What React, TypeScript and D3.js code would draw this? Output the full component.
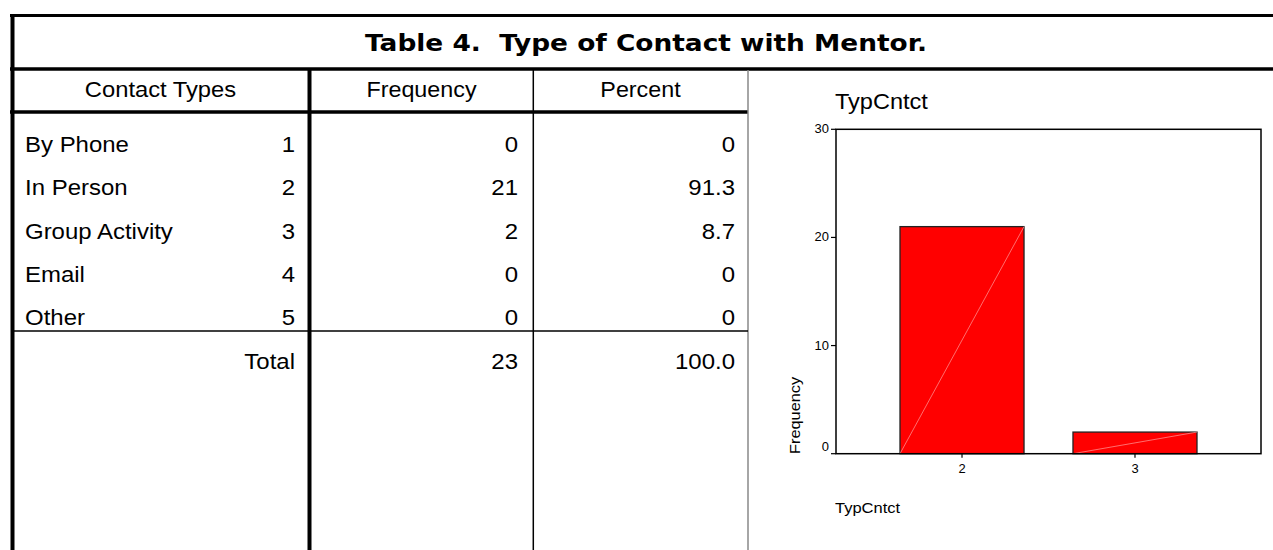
import React from "react";
import * as d3 from "d3";

const contactTypes = ["By Phone", "In Person", "Group Activity", "Email", "Other"];
const contactCodes = [1, 2, 3, 4, 5];
const frequencies = [0, 21, 2, 0, 0];
const percents = ["0", "91.3", "8.7", "0", "0"];
const totalLabel = "Total";
const totalFrequency = 23;
const totalPercent = "100.0";
const headers = ["Contact Types", "Frequency", "Percent"];
const yTicks = [0, 10, 20, 30];
const titleText = "Table 4.  Type of Contact with Mentor.";
const chartTitle = "TypCntct";
const xAxisTitle = "TypCntct";
const yAxisTitle = "Frequency";

const W = 1273;
const H = 550;
const SANS = "'Liberation Sans', Arial, sans-serif";

type TP = {
  x: number;
  y: number;
  size: number;
  anchor?: "start" | "middle" | "end";
  sx?: number;
  rot?: number;
  weight?: string | number;
  family?: string;
  children: React.ReactNode;
};

function Txt({ x, y, size, anchor = "start", sx = 1.09, rot = 0, weight = "normal", family = SANS, children }: TP) {
  return (
    <text
      transform={`translate(${x},${y})${rot ? ` rotate(${rot})` : ""} scale(${sx},1)`}
      textAnchor={anchor}
      fontSize={size}
      fontFamily={family}
      fontWeight={weight}
      fill="#000"
    >
      {children}
    </text>
  );
}

export default function App() {
  // table layout
  const rowY = d3.scaleLinear().domain([0, contactTypes.length - 1]).range([152, 325]);
  const totalY = 369;

  // chart
  const chartData = contactCodes
    .map((c, i) => ({ code: String(c), freq: frequencies[i] }))
    .filter((d) => d.freq > 0);
  const plotL = 836, plotR = 1261, plotT = 129.3, plotB = 453.7;
  const y = d3.scaleLinear().domain([0, 30]).range([plotB, plotT]);
  const x = d3
    .scaleBand<string>()
    .domain(chartData.map((d) => d.code))
    .range([plotL, plotR])
    .paddingInner(0.283)
    .paddingOuter(0.37);

  return (
    <svg
      width={W}
      height={H}
      style={{ position: "absolute", left: 0, top: 0, display: "block", background: "#fff" }}
    >
      <rect x={0} y={0} width={W} height={H} fill="#fff" />

      {/* table grid */}
      <line x1={10} x2={W} y1={15.5} y2={15.5} stroke="#000" strokeWidth={3} />
      <line x1={12.5} x2={12.5} y1={14} y2={H} stroke="#000" strokeWidth={4} />
      <line x1={10} x2={W} y1={69} y2={69} stroke="#000" strokeWidth={3.5} />
      <line x1={10} x2={748} y1={112} y2={112} stroke="#000" strokeWidth={3.5} />
      <line x1={309.5} x2={309.5} y1={69} y2={H} stroke="#000" strokeWidth={4} />
      <line x1={533.3} x2={533.3} y1={69} y2={H} stroke="#000" strokeWidth={1.5} />
      <line x1={748} x2={748} y1={70} y2={H} stroke="#888" strokeWidth={1.5} />
      <line x1={12} x2={748} y1={331} y2={331} stroke="#000" strokeWidth={1.5} />

      {/* title */}
      <text
        x={646}
        y={51}
        textAnchor="middle"
        fontFamily="'DejaVu Sans', Verdana, sans-serif"
        fontWeight="bold"
        fontSize={23}
        textLength={562}
        lengthAdjust="spacingAndGlyphs"
        fill="#000"
        style={{ whiteSpace: "pre" }}
        xmlSpace="preserve"
      >
        {titleText}
      </text>

      {/* headers */}
      <Txt x={160.5} y={97} size={22} anchor="middle" sx={1.08}>{headers[0]}</Txt>
      <Txt x={421.5} y={97} size={22} anchor="middle" sx={1.06}>{headers[1]}</Txt>
      <Txt x={640.5} y={97} size={22} anchor="middle" sx={1.06}>{headers[2]}</Txt>

      {/* rows */}
      {contactTypes.map((t, i) => (
        <g key={t}>
          <Txt x={25} y={rowY(i)} size={22}>{t}</Txt>
          <Txt x={295} y={rowY(i)} size={22} anchor="end">{contactCodes[i]}</Txt>
          <Txt x={518} y={rowY(i)} size={22} anchor="end">{frequencies[i]}</Txt>
          <Txt x={735} y={rowY(i)} size={22} anchor="end">{percents[i]}</Txt>
        </g>
      ))}
      <Txt x={295} y={totalY} size={22} anchor="end">{totalLabel}</Txt>
      <Txt x={518} y={totalY} size={22} anchor="end">{totalFrequency}</Txt>
      <Txt x={735} y={totalY} size={22} anchor="end">{totalPercent}</Txt>

      {/* chart */}
      <Txt x={835} y={108.5} size={22} sx={1.07}>{chartTitle}</Txt>

      {chartData.map((d) => {
        const x0 = x(d.code)!;
        const x1 = x0 + x.bandwidth();
        const yt = y(d.freq);
        return (
          <g key={d.code}>
            <rect x={x0} y={yt} width={x.bandwidth()} height={plotB - yt} fill="#ff0000" stroke="#222" strokeWidth={1.3} />
            <line x1={x0} y1={plotB} x2={x1} y2={yt} stroke="#ff9c9c" strokeWidth={0.7} />
          </g>
        );
      })}

      <rect x={plotL} y={plotT} width={plotR - plotL} height={plotB - plotT} fill="none" stroke="#000" strokeWidth={1.5} />

      {yTicks.map((v) => (
        <g key={v}>
          <line x1={plotL - 5} x2={plotL} y1={y(v)} y2={y(v)} stroke="#000" strokeWidth={1.2} />
          <Txt x={829} y={y(v) + 4 - (v === 0 ? 7 : 0)} size={12} anchor="end" sx={1.08}>{v}</Txt>
        </g>
      ))}

      {chartData.map((d) => {
        const cx = x(d.code)! + x.bandwidth() / 2;
        return (
          <g key={"xt" + d.code}>
            <line x1={cx} x2={cx} y1={plotB} y2={plotB + 4} stroke="#000" strokeWidth={1.2} />
            <Txt x={cx} y={472.5} size={12} anchor="middle" sx={1.08}>{d.code}</Txt>
          </g>
        );
      })}

      <Txt x={800} y={454} size={15} rot={-90} sx={1.09}>{yAxisTitle}</Txt>
      <Txt x={835} y={512.5} size={15} sx={1.1}>{xAxisTitle}</Txt>
    </svg>
  );
}
